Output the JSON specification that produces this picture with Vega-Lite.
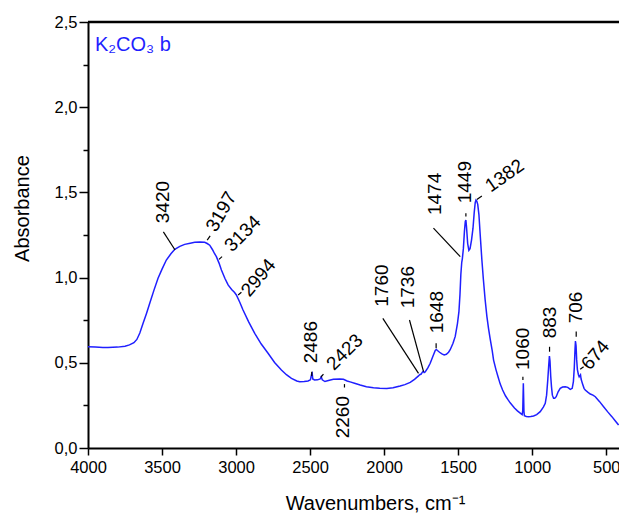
{
  "$schema": "https://vega.github.io/schema/vega-lite/v6.json",
  "width": 531,
  "height": 426,
  "autosize": "none",
  "padding": {"left": 88, "top": 22, "right": 0, "bottom": 68},
  "background": "white",
  "config": {
    "view": {"stroke": null},
    "font": "Liberation Sans",
    "axis": {
      "domainColor": "black",
      "domainWidth": 2,
      "tickColor": "black",
      "tickWidth": 1.5,
      "labelFont": "Liberation Sans",
      "labelColor": "black",
      "labelFontSize": 16.5,
      "titleFont": "Liberation Sans",
      "titleColor": "black",
      "titleFontWeight": "normal",
      "grid": false,
      "labelOverlap": false,
      "labelFlush": false
    }
  },
  "datasets": {
    "spectrum": [
      {"wn": 4000, "a": 0.594}, {"wn": 3950, "a": 0.592}, {"wn": 3900, "a": 0.59}, {"wn": 3865, "a": 0.59},
      {"wn": 3800, "a": 0.592}, {"wn": 3750, "a": 0.597}, {"wn": 3720, "a": 0.605}, {"wn": 3690, "a": 0.618},
      {"wn": 3670, "a": 0.637}, {"wn": 3650, "a": 0.675}, {"wn": 3628, "a": 0.732}, {"wn": 3605, "a": 0.79},
      {"wn": 3583, "a": 0.849}, {"wn": 3555, "a": 0.925}, {"wn": 3527, "a": 0.996}, {"wn": 3500, "a": 1.05},
      {"wn": 3471, "a": 1.103}, {"wn": 3440, "a": 1.14}, {"wn": 3414, "a": 1.166}, {"wn": 3380, "a": 1.183},
      {"wn": 3347, "a": 1.195}, {"wn": 3310, "a": 1.202}, {"wn": 3279, "a": 1.207}, {"wn": 3245, "a": 1.209},
      {"wn": 3212, "a": 1.207}, {"wn": 3195, "a": 1.2}, {"wn": 3178, "a": 1.19}, {"wn": 3160, "a": 1.165},
      {"wn": 3145, "a": 1.14}, {"wn": 3133, "a": 1.123}, {"wn": 3115, "a": 1.085}, {"wn": 3099, "a": 1.045},
      {"wn": 3075, "a": 0.995}, {"wn": 3054, "a": 0.957}, {"wn": 3030, "a": 0.93}, {"wn": 3010, "a": 0.912},
      {"wn": 2998, "a": 0.898}, {"wn": 2975, "a": 0.855}, {"wn": 2953, "a": 0.81}, {"wn": 2915, "a": 0.74},
      {"wn": 2874, "a": 0.673}, {"wn": 2830, "a": 0.61}, {"wn": 2784, "a": 0.556}, {"wn": 2740, "a": 0.502},
      {"wn": 2694, "a": 0.458}, {"wn": 2660, "a": 0.43}, {"wn": 2626, "a": 0.409}, {"wn": 2590, "a": 0.393},
      {"wn": 2570, "a": 0.389}, {"wn": 2540, "a": 0.39}, {"wn": 2514, "a": 0.393}, {"wn": 2498, "a": 0.4},
      {"wn": 2490, "a": 0.432}, {"wn": 2486, "a": 0.438}, {"wn": 2482, "a": 0.405}, {"wn": 2470, "a": 0.399},
      {"wn": 2450, "a": 0.4}, {"wn": 2432, "a": 0.405}, {"wn": 2425, "a": 0.418}, {"wn": 2418, "a": 0.4},
      {"wn": 2400, "a": 0.39}, {"wn": 2370, "a": 0.398}, {"wn": 2343, "a": 0.403}, {"wn": 2300, "a": 0.405},
      {"wn": 2275, "a": 0.403}, {"wn": 2250, "a": 0.393}, {"wn": 2230, "a": 0.388}, {"wn": 2200, "a": 0.38},
      {"wn": 2162, "a": 0.37}, {"wn": 2120, "a": 0.36}, {"wn": 2072, "a": 0.354}, {"wn": 2030, "a": 0.35},
      {"wn": 1982, "a": 0.349}, {"wn": 1940, "a": 0.353}, {"wn": 1892, "a": 0.364}, {"wn": 1860, "a": 0.372},
      {"wn": 1824, "a": 0.385}, {"wn": 1795, "a": 0.403}, {"wn": 1768, "a": 0.423}, {"wn": 1760, "a": 0.43},
      {"wn": 1750, "a": 0.434}, {"wn": 1742, "a": 0.445}, {"wn": 1736, "a": 0.45}, {"wn": 1730, "a": 0.443},
      {"wn": 1723, "a": 0.447}, {"wn": 1705, "a": 0.47}, {"wn": 1689, "a": 0.497}, {"wn": 1670, "a": 0.54},
      {"wn": 1655, "a": 0.573}, {"wn": 1648, "a": 0.578}, {"wn": 1640, "a": 0.572}, {"wn": 1626, "a": 0.562},
      {"wn": 1610, "a": 0.552}, {"wn": 1595, "a": 0.546}, {"wn": 1580, "a": 0.55}, {"wn": 1565, "a": 0.562},
      {"wn": 1554, "a": 0.577}, {"wn": 1535, "a": 0.615}, {"wn": 1520, "a": 0.655}, {"wn": 1505, "a": 0.73},
      {"wn": 1495, "a": 0.8}, {"wn": 1488, "a": 0.9}, {"wn": 1482, "a": 1.02}, {"wn": 1476, "a": 1.09},
      {"wn": 1472, "a": 1.11}, {"wn": 1465, "a": 1.17}, {"wn": 1458, "a": 1.27}, {"wn": 1452, "a": 1.33},
      {"wn": 1448, "a": 1.338}, {"wn": 1444, "a": 1.3}, {"wn": 1436, "a": 1.2}, {"wn": 1428, "a": 1.16},
      {"wn": 1420, "a": 1.17}, {"wn": 1410, "a": 1.22}, {"wn": 1400, "a": 1.29}, {"wn": 1392, "a": 1.38},
      {"wn": 1385, "a": 1.44}, {"wn": 1380, "a": 1.455}, {"wn": 1375, "a": 1.45}, {"wn": 1368, "a": 1.43},
      {"wn": 1360, "a": 1.37}, {"wn": 1352, "a": 1.26}, {"wn": 1340, "a": 1.103}, {"wn": 1330, "a": 0.99},
      {"wn": 1318, "a": 0.87}, {"wn": 1306, "a": 0.771}, {"wn": 1295, "a": 0.7}, {"wn": 1284, "a": 0.64},
      {"wn": 1270, "a": 0.57}, {"wn": 1261, "a": 0.516}, {"wn": 1245, "a": 0.46}, {"wn": 1230, "a": 0.415},
      {"wn": 1216, "a": 0.375}, {"wn": 1200, "a": 0.34}, {"wn": 1180, "a": 0.305}, {"wn": 1165, "a": 0.285},
      {"wn": 1149, "a": 0.265}, {"wn": 1120, "a": 0.235}, {"wn": 1100, "a": 0.218}, {"wn": 1081, "a": 0.205},
      {"wn": 1068, "a": 0.196}, {"wn": 1064, "a": 0.22}, {"wn": 1062, "a": 0.3}, {"wn": 1060, "a": 0.38},
      {"wn": 1058, "a": 0.3}, {"wn": 1056, "a": 0.215}, {"wn": 1053, "a": 0.19}, {"wn": 1040, "a": 0.185},
      {"wn": 1025, "a": 0.184}, {"wn": 1010, "a": 0.185}, {"wn": 991, "a": 0.188}, {"wn": 970, "a": 0.196},
      {"wn": 946, "a": 0.213}, {"wn": 925, "a": 0.24}, {"wn": 912, "a": 0.262}, {"wn": 903, "a": 0.31},
      {"wn": 895, "a": 0.4}, {"wn": 889, "a": 0.48}, {"wn": 884, "a": 0.54}, {"wn": 880, "a": 0.51},
      {"wn": 875, "a": 0.42}, {"wn": 870, "a": 0.36}, {"wn": 864, "a": 0.31}, {"wn": 856, "a": 0.292},
      {"wn": 848, "a": 0.292}, {"wn": 838, "a": 0.301}, {"wn": 825, "a": 0.33}, {"wn": 811, "a": 0.35},
      {"wn": 795, "a": 0.358}, {"wn": 777, "a": 0.36}, {"wn": 760, "a": 0.356}, {"wn": 743, "a": 0.344},
      {"wn": 730, "a": 0.35}, {"wn": 722, "a": 0.39}, {"wn": 716, "a": 0.47}, {"wn": 711, "a": 0.58},
      {"wn": 708, "a": 0.628}, {"wn": 704, "a": 0.6}, {"wn": 700, "a": 0.52}, {"wn": 695, "a": 0.46},
      {"wn": 688, "a": 0.43}, {"wn": 683, "a": 0.418}, {"wn": 678, "a": 0.425}, {"wn": 674, "a": 0.43},
      {"wn": 670, "a": 0.405}, {"wn": 660, "a": 0.375}, {"wn": 650, "a": 0.35}, {"wn": 642, "a": 0.34},
      {"wn": 625, "a": 0.328}, {"wn": 608, "a": 0.317}, {"wn": 590, "a": 0.31}, {"wn": 574, "a": 0.301},
      {"wn": 545, "a": 0.272}, {"wn": 518, "a": 0.242}, {"wn": 490, "a": 0.212}, {"wn": 462, "a": 0.184},
      {"wn": 440, "a": 0.16}, {"wn": 417, "a": 0.135}
    ],
    "leaders": [
      {"wn": 3491, "a": 1.268, "wn2": 3412, "a2": 1.162},
      {"wn": 3195, "a": 1.22, "wn2": 3175, "a2": 1.245},
      {"wn": 3115, "a": 1.107, "wn2": 3095, "a2": 1.123},
      {"wn": 2986, "a": 0.898, "wn2": 2964, "a2": 0.914},
      {"wn": 2489, "a": 0.448, "wn2": 2489, "a2": 0.423},
      {"wn": 2428, "a": 0.415, "wn2": 2410, "a2": 0.434},
      {"wn": 2268, "a": 0.375, "wn2": 2268, "a2": 0.355},
      {"wn": 2009, "a": 0.761, "wn2": 1768, "a2": 0.438},
      {"wn": 1829, "a": 0.751, "wn2": 1734, "a2": 0.448},
      {"wn": 1649, "a": 0.614, "wn2": 1649, "a2": 0.585},
      {"wn": 1667, "a": 1.29, "wn2": 1486, "a2": 1.123},
      {"wn": 1448, "a": 1.377, "wn2": 1448, "a2": 1.358},
      {"wn": 1374, "a": 1.459, "wn2": 1340, "a2": 1.479},
      {"wn": 1063, "a": 0.418, "wn2": 1063, "a2": 0.399},
      {"wn": 883, "a": 0.594, "wn2": 883, "a2": 0.565},
      {"wn": 703, "a": 0.683, "wn2": 703, "a2": 0.653},
      {"wn": 676, "a": 0.462, "wn2": 653, "a2": 0.477}
    ],
    "vertical": [
      {"wn": 3491, "a": 1.319, "label": "3420"},
      {"wn": 2495, "a": 0.497, "label": "2486"},
      {"wn": 2275, "a": 0.057, "label": "2260"},
      {"wn": 2016, "a": 0.829, "label": "1760"},
      {"wn": 1836, "a": 0.82, "label": "1736"},
      {"wn": 1644, "a": 0.673, "label": "1648"},
      {"wn": 1655, "a": 1.367, "label": "1474"},
      {"wn": 1453, "a": 1.436, "label": "1449"},
      {"wn": 1063, "a": 0.458, "label": "1060"},
      {"wn": 883, "a": 0.644, "label": "883"},
      {"wn": 703, "a": 0.732, "label": "706"}
    ],
    "diag45": [
      {"wn": 3056, "a": 1.17, "label": "3134"},
      {"wn": 2367, "a": 0.475, "label": "2423"}
    ],
    "diag50": [
      {"wn": 2941, "a": 0.904, "label": "2994"},
      {"wn": 642, "a": 0.474, "label": "674"}
    ],
    "diag60": [
      {"wn": 3171, "a": 1.279, "label": "3197"}
    ],
    "diag35": [
      {"wn": 1303, "a": 1.527, "label": "1382"}
    ],
    "sample": [
      {"wn": 3953, "a": 2.332, "label": "K₂CO₃ b"}
    ],
    "frame": [
      {"a": 2.5}
    ]
  },
  "layer": [
    {
      "data": {"name": "spectrum"},
      "mark": {"type": "line", "color": "#1f1fff", "strokeWidth": 1.5, "clip": true},
      "encoding": {
        "x": {
          "field": "wn", "type": "quantitative",
          "scale": {"domain": [414, 4000], "reverse": true, "nice": false, "zero": false},
          "axis": {
            "orient": "bottom",
            "values": [4000, 3750, 3500, 3250, 3000, 2750, 2500, 2250, 2000, 1750, 1500, 1250, 1000, 750, 500],
            "labelExpr": "datum.value % 500 === 0 ? format(datum.value, 'd') : ''",
            "tickSize": {"condition": {"test": "datum.value % 500 === 0", "value": 7}, "value": 4},
            "labelPadding": 4,
            "title": "Wavenumbers, cm⁻¹",
            "titleFontSize": 20,
            "titleAlign": "center",
            "titleBaseline": "alphabetic",
            "titleX": 287,
            "titleY": 61
          }
        },
        "y": {
          "field": "a", "type": "quantitative",
          "scale": {"domain": [0, 2.5], "nice": false},
          "axis": {
            "orient": "left",
            "values": [0, 0.25, 0.5, 0.75, 1, 1.25, 1.5, 1.75, 2, 2.25, 2.5],
            "labelExpr": "round(datum.value * 100) % 50 === 0 ? replace(format(datum.value, '.1f'), '.', ',') : ''",
            "tickSize": {"condition": {"test": "round(datum.value * 100) % 50 === 0", "value": 9}, "value": 5},
            "labelPadding": 2,
            "title": "Absorbance",
            "titleFontSize": 20,
            "titleAngle": 270,
            "titleAlign": "center",
            "titleBaseline": "alphabetic",
            "titleX": -60,
            "titleY": 186
          }
        }
      }
    },
    {
      "data": {"name": "frame"},
      "mark": {"type": "rule", "color": "black", "strokeWidth": 2.5},
      "encoding": {"y": {"field": "a", "type": "quantitative"}}
    },
    {
      "data": {"name": "leaders"},
      "mark": {"type": "rule", "color": "black", "strokeWidth": 1.2},
      "encoding": {
        "x": {"field": "wn", "type": "quantitative"},
        "x2": {"field": "wn2"},
        "y": {"field": "a", "type": "quantitative"},
        "y2": {"field": "a2"}
      }
    },
    {
      "data": {"name": "vertical"},
      "mark": {"type": "text", "angle": 270, "align": "left", "baseline": "middle", "font": "Liberation Sans", "fontSize": 19, "color": "black"},
      "encoding": {
        "x": {"field": "wn", "type": "quantitative"},
        "y": {"field": "a", "type": "quantitative"},
        "text": {"field": "label"}
      }
    },
    {
      "data": {"name": "diag45"},
      "mark": {"type": "text", "angle": 315, "align": "left", "baseline": "middle", "font": "Liberation Sans", "fontSize": 19, "color": "black"},
      "encoding": {
        "x": {"field": "wn", "type": "quantitative"},
        "y": {"field": "a", "type": "quantitative"},
        "text": {"field": "label"}
      }
    },
    {
      "data": {"name": "diag50"},
      "mark": {"type": "text", "angle": 310, "align": "left", "baseline": "middle", "font": "Liberation Sans", "fontSize": 19, "color": "black"},
      "encoding": {
        "x": {"field": "wn", "type": "quantitative"},
        "y": {"field": "a", "type": "quantitative"},
        "text": {"field": "label"}
      }
    },
    {
      "data": {"name": "diag60"},
      "mark": {"type": "text", "angle": 300, "align": "left", "baseline": "middle", "font": "Liberation Sans", "fontSize": 19, "color": "black"},
      "encoding": {
        "x": {"field": "wn", "type": "quantitative"},
        "y": {"field": "a", "type": "quantitative"},
        "text": {"field": "label"}
      }
    },
    {
      "data": {"name": "diag35"},
      "mark": {"type": "text", "angle": 325, "align": "left", "baseline": "middle", "font": "Liberation Sans", "fontSize": 19, "color": "black"},
      "encoding": {
        "x": {"field": "wn", "type": "quantitative"},
        "y": {"field": "a", "type": "quantitative"},
        "text": {"field": "label"}
      }
    },
    {
      "data": {"name": "sample"},
      "mark": {"type": "text", "align": "left", "baseline": "alphabetic", "font": "Liberation Sans, DejaVu Sans", "fontSize": 20, "color": "#1f1fff"},
      "encoding": {
        "x": {"field": "wn", "type": "quantitative"},
        "y": {"field": "a", "type": "quantitative"},
        "text": {"field": "label"}
      }
    }
  ]
}
